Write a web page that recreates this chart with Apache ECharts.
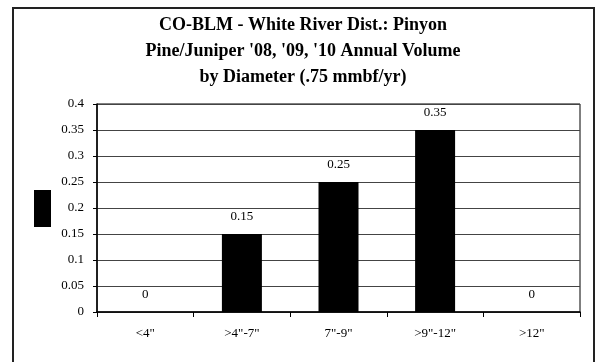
<!DOCTYPE html>
<html>
<head>
<meta charset="utf-8">
<script src="https://cdn.jsdelivr.net/npm/echarts@6/dist/echarts.min.js"></script>
<style>
html,body{margin:0;padding:0;background:#fff;}
#frame{position:absolute;left:12px;top:7px;width:583px;height:370px;border:2px solid #222;box-sizing:border-box;}
#chart{position:absolute;left:0;top:0;width:596px;height:362px;}
</style>
</head>
<body>
<div id="frame"></div>
<div id="chart"></div>
<script>
var titleLines = ["CO-BLM - White River Dist.: Pinyon", "Pine/Juniper '08, '09, '10 Annual Volume", "by Diameter (.75 mmbf/yr)"];
var categories = ['<4"', '>4"-7"', '7"-9"', '>9"-12"', '>12"'];
var volumes = [0, 0.15, 0.25, 0.35, 0];
var yTicks = { min: 0, max: 0.4, interval: 0.05 };

var serif = '"Liberation Serif", "Times New Roman", serif';
var chart = echarts.init(document.getElementById('chart'), null, { renderer: 'canvas' });
chart.setOption({
  animation: false,
  backgroundColor: 'transparent',
  title: {
    text: titleLines.join('\n'),
    left: 298,
    textAlign: 'center',
    top: 7,
    textStyle: { fontFamily: serif, fontWeight: 'bold', fontSize: 18, lineHeight: 26, color: '#000' }
  },
  legend: {
    data: ['Volume'],
    left: 29,
    top: 185,
    orient: 'vertical',
    itemWidth: 17,
    itemHeight: 37,
    icon: 'rect',
    formatter: function () { return ''; },
    textStyle: { fontSize: 1 }
  },
  grid: {
    left: 97, right: 16, top: 104, bottom: 50,
    show: true, borderColor: '#000', borderWidth: 1
  },
  xAxis: {
    type: 'category',
    data: categories,
    axisLine: { lineStyle: { color: '#000', width: 1.5 } },
    axisTick: { show: true, length: 5, alignWithLabel: false, lineStyle: { color: '#000' } },
    axisLabel: { fontFamily: serif, fontSize: 13, color: '#000', margin: 15 }
  },
  yAxis: {
    type: 'value',
    min: yTicks.min, max: yTicks.max, interval: yTicks.interval,
    axisLine: { show: true, lineStyle: { color: '#000', width: 1.5 } },
    axisTick: { show: true, length: 4, lineStyle: { color: '#000' } },
    axisLabel: { fontFamily: serif, fontSize: 13, color: '#000', margin: 13,
      formatter: function (v) { return String(Math.round(v * 100) / 100); } },
    splitLine: { show: true, lineStyle: { color: '#444', width: 1 } }
  },
  series: [{
    name: 'Volume',
    type: 'bar',
    data: volumes,
    barWidth: 40,
    itemStyle: { color: '#000' },
    label: {
      show: true, position: 'top', distance: 11,
      fontFamily: serif, fontSize: 13, color: '#000',
      formatter: function (p) { return String(p.value); }
    }
  }]
});
</script>
</body>
</html>
